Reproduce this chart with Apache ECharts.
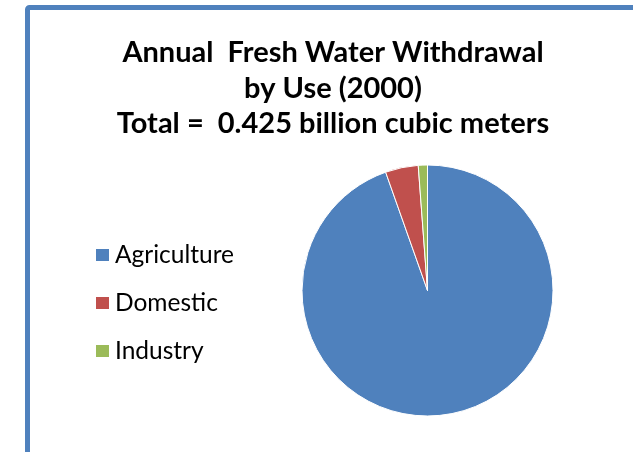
<!DOCTYPE html>
<html>
<head>
<meta charset="utf-8">
<script src="https://cdn.jsdelivr.net/npm/echarts@6/dist/echarts.min.js"></script>
<style>
html,body{margin:0;padding:0;background:#fff;}
#chart{width:633px;height:452px;}
</style>
</head>
<body>
<div id="chart"></div>
<script>
// Data (billion cubic meters, year 2000)
var categories = ['Agriculture', 'Domestic', 'Industry'];
var values = [0.402, 0.018, 0.005];
var colors = ['#4F81BD', '#C0504D', '#9BBB59'];
var titleText = 'Annual  Fresh Water Withdrawal\nby Use (2000)\nTotal =  0.425 billion cubic meters';

var chart = echarts.init(document.getElementById('chart'), null, {renderer: 'canvas'});
var pieData = categories.map(function (c, i) {
  return { name: c, value: values[i], itemStyle: { color: colors[i] } };
});
chart.setOption({
  animation: false,
  backgroundColor: '#ffffff',
  title: {
    text: titleText,
    left: 328,
    top: 30,
    textAlign: 'center',
    textStyle: {
      fontFamily: 'Lato',
      fontWeight: 'bold',
      fontSize: 29,
      lineHeight: 35.5,
      color: '#000'
    }
  },
  legend: {
    orient: 'vertical',
    left: 94,
    top: 241,
    padding: 0,
    itemWidth: 15,
    itemHeight: 14,
    itemGap: 20,
    icon: 'rect',
    selectedMode: false,
    data: categories,
    textStyle: {
      fontFamily: 'Lato',
      fontSize: 24.5,
      lineHeight: 28,
      color: '#000'
    }
  },
  graphic: [{
    type: 'rect',
    shape: { x: 27.5, y: 7.5, width: 800, height: 800, r: 2 },
    style: { fill: 'none', stroke: '#4F81BD', lineWidth: 5 },
    silent: true
  }],
  series: [{
    type: 'pie',
    center: [427.5, 290.5],
    radius: 125.5,
    startAngle: 90,
    clockwise: true,
    label: { show: false },
    labelLine: { show: false },
    emphasis: { disabled: true },
    itemStyle: { borderColor: '#ffffff', borderWidth: 1 },
    data: pieData
  }]
});
</script>
</body>
</html>
